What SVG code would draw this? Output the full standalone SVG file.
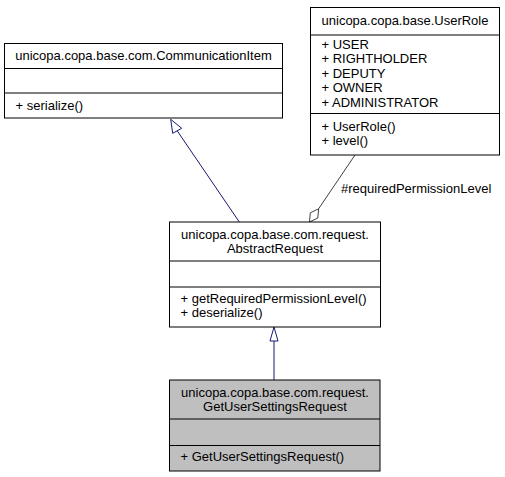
<svg xmlns="http://www.w3.org/2000/svg" width="505" height="477" viewBox="0 0 505 477">
<style>
text{font-family:"Liberation Sans",Arial,Helvetica,sans-serif;font-size:13px;fill:#000}
.c{text-anchor:middle}
.box{fill:#fff;stroke:#000;stroke-width:1}
.cur{fill:#bfbfbf;stroke:#000;stroke-width:1}
.sep{stroke:#000;stroke-width:1}
.inh{stroke:#191970;stroke-width:1;fill:none}
.inhh{stroke:#191970;stroke-width:1;fill:#fff}
.agg{stroke:#404040;stroke-width:1;fill:none}
.aggh{stroke:#404040;stroke-width:1;fill:#fff}
</style>
<rect width="505" height="477" fill="#fff"/>
<g id="connectors">
<line class="inh" x1="239.3" y1="222" x2="177.2" y2="130.8"/>
<polygon class="inhh" points="170.7,119.3 172.7,133.3 181.7,128.3"/>
<line class="inh" x1="274" y1="380" x2="274" y2="341"/>
<polygon class="inhh" points="274,327 270,341 278,341"/>
<line class="agg" x1="355" y1="155" x2="318.6" y2="208.8"/>
<polygon class="aggh" points="309.5,222 317.8,218 318.6,208.8 310.3,212.8"/>
<text x="341" y="193">#requiredPermissionLevel</text>
</g>
<g id="CommunicationItem">
<rect class="box" x="4.5" y="43.5" width="278" height="74.5"/>
<line class="sep" x1="4.5" y1="68.5" x2="282.5" y2="68.5"/>
<line class="sep" x1="4.5" y1="93" x2="282.5" y2="93"/>
<text class="c" x="143.5" y="60">unicopa.copa.base.com.CommunicationItem</text>
<text x="15.5" y="109.5">+ serialize()</text>
</g>
<g id="UserRole">
<rect class="box" x="310.5" y="7.5" width="189" height="147.5"/>
<line class="sep" x1="310.5" y1="35" x2="499.5" y2="35"/>
<line class="sep" x1="310.5" y1="113.5" x2="499.5" y2="113.5"/>
<text class="c" x="405" y="24.5">unicopa.copa.base.UserRole</text>
<text x="321.5" y="48.5">+ USER</text>
<text x="321.5" y="63">+ RIGHTHOLDER</text>
<text x="321.5" y="77.5">+ DEPUTY</text>
<text x="321.5" y="92">+ OWNER</text>
<text x="321.5" y="106.5">+ ADMINISTRATOR</text>
<text x="321.5" y="130.5">+ UserRole()</text>
<text x="321.5" y="145">+ level()</text>
</g>
<g id="AbstractRequest">
<rect class="box" x="169.5" y="222" width="211" height="105"/>
<line class="sep" x1="169.5" y1="261" x2="380.5" y2="261"/>
<line class="sep" x1="169.5" y1="287" x2="380.5" y2="287"/>
<text class="c" x="275" y="238.5">unicopa.copa.base.com.request.</text>
<text class="c" x="275" y="252.5">AbstractRequest</text>
<text x="180.5" y="303">+ getRequiredPermissionLevel()</text>
<text x="180.5" y="317">+ deserialize()</text>
</g>
<g id="GetUserSettingsRequest">
<rect class="cur" x="169.5" y="380" width="210.5" height="91"/>
<line class="sep" x1="169.5" y1="419" x2="380" y2="419"/>
<line class="sep" x1="169.5" y1="445.5" x2="380" y2="445.5"/>
<text class="c" x="275" y="396.5">unicopa.copa.base.com.request.</text>
<text class="c" x="275" y="410.5">GetUserSettingsRequest</text>
<text x="180.5" y="460.5">+ GetUserSettingsRequest()</text>
</g>
</svg>
